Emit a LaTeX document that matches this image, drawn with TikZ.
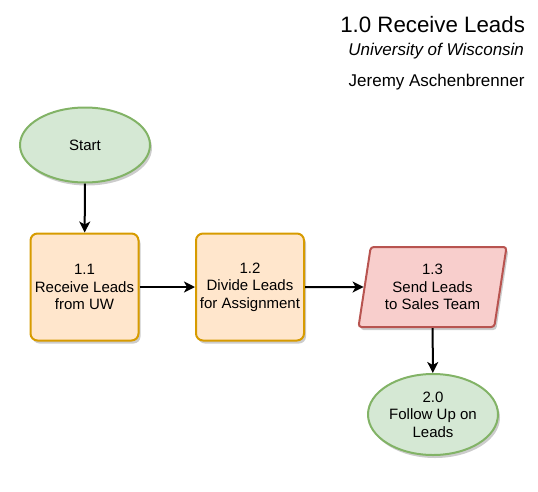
\documentclass[tikz,border=0pt]{standalone}
\usepackage{fontspec}
\setmainfont{Liberation Sans}
\usetikzlibrary{shapes.geometric,shadows,arrows.meta}

\definecolor{termfill}{HTML}{D5E8D4}
\definecolor{termline}{HTML}{82B366}
\definecolor{procfill}{HTML}{FFE6CC}
\definecolor{procline}{HTML}{D79B00}
\definecolor{sendfill}{HTML}{F8CECC}
\definecolor{sendline}{HTML}{B85450}

\begin{document}
\begin{tikzpicture}[x=1pt,y=-1pt,
	every node/.style={font=\fontsize{15}{17.5}\selectfont,align=center},
	shade/.style={drop shadow={shadow xshift=2pt,shadow yshift=-3pt,opacity=0.2,fill=black}},
	terminal/.style={ellipse,draw=termline,fill=termfill,line width=2pt,inner sep=0pt,shade},
	process/.style={rectangle,rounded corners=7pt,draw=procline,fill=procfill,line width=2pt,
		minimum width=108pt,minimum height=107pt,inner sep=0pt,shade},
	sendbox/.style={trapezium,trapezium left angle=75,trapezium right angle=105,trapezium stretches body,
		rounded corners=3pt,draw=sendline,fill=sendfill,line width=2pt,
		minimum width=148pt,minimum height=80pt,inner sep=0pt,shade},
	flow/.style={-{Stealth[length=11pt,width=11pt,inset=3pt]},line width=2pt}]
	\useasboundingbox (0,0) rectangle (538,491);

	% title block
	\node[anchor=base east,font=\fontsize{22.3}{26}\selectfont] (title) at (528.5,32) {1.0 Receive Leads};
	\node[anchor=base east,font=\fontsize{17}{20}\selectfont\itshape] (school) at (527.5,55) {University of Wisconsin};
	\node[anchor=base east,font=\fontsize{17}{20}\selectfont] (author) at (528,86) {Jeremy Aschenbrenner};

	% steps
	\node[terminal,minimum width=130pt,minimum height=75pt] (start) at (85,145) {Start};
	\node[process] (receive) at (84.5,287) {1.1\\Receive Leads\\from UW};
	\node[process] (divide) at (250,287) {1.2\\Divide Leads\\for Assignment};
	\node[sendbox] (send) at (432.5,287) {1.3\\Send Leads\\to Sales Team};
	\node[terminal,minimum width=130pt,minimum height=81pt] (follow) at (433,414.5) {2.0\\Follow Up on\\Leads};

	\draw[flow] (start) -- (receive);
	\draw[flow] (receive) -- (divide);
	\draw[flow] (divide) -- (send);
	\draw[flow] (send) -- (follow);
\end{tikzpicture}
\end{document}
